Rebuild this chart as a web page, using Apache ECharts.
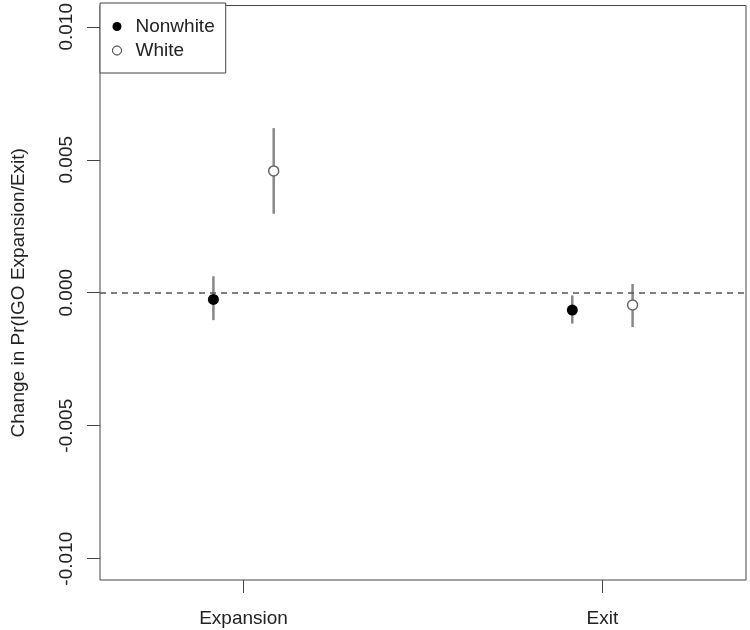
<!DOCTYPE html>
<html>
<head>
<meta charset="utf-8">
<script src="https://cdn.jsdelivr.net/npm/echarts@6/dist/echarts.min.js"></script>
<style>
  html, body { margin: 0; padding: 0; background: #fff; }
  #chart { width: 750px; height: 630px; }
</style>
</head>
<body>
<div id="chart"></div>
<script>
const categories = ['Expansion', 'Exit'];
const nonwhiteEst = [-0.00025, -0.00065];
const nonwhiteLo = [-0.00103, -0.00116];
const nonwhiteHi = [0.00062, -0.0001];
const whiteEst = [0.00458, -0.00046];
const whiteLo = [0.00297, -0.00129];
const whiteHi = [0.00619, 0.00033];
const yTicks = [-0.01, -0.005, 0, 0.005, 0.01];
const offset = 0.084;

const font = "'Liberation Sans', Arial, sans-serif";

const nonwhitePts = nonwhiteEst.map((v, i) => [i + 1 - offset, v]);
const whitePts = whiteEst.map((v, i) => [i + 1 + offset, v]);
const bars = [];
categories.forEach((c, i) => {
  bars.push([i + 1 - offset, nonwhiteLo[i], nonwhiteHi[i]]);
  bars.push([i + 1 + offset, whiteLo[i], whiteHi[i]]);
});

const chart = echarts.init(document.getElementById('chart'));
chart.setOption({
  animation: false,
  textStyle: { fontFamily: font },
  grid: {
    left: 100, right: 4, top: 3, bottom: 50,
    show: true, borderColor: '#444', borderWidth: 1
  },
  legend: {
    left: 100, top: 3,
    orient: 'vertical',
    backgroundColor: '#fff',
    borderColor: '#444', borderWidth: 1, borderRadius: 0,
    padding: [14, 11, 13, 12],
    itemGap: 5,
    itemWidth: 9, itemHeight: 9,
    textStyle: { fontSize: 19, color: '#222', padding: [0, 0, 0, 9] },
    data: [
      { name: 'Nonwhite', icon: 'circle' },
      { name: 'White', icon: 'circle', itemStyle: { borderColor: '#222', borderWidth: 1 } }
    ],
    z: 10
  },
  xAxis: {
    type: 'value',
    min: 0.6, max: 2.4,
    splitLine: { show: false },
    axisLine: { show: false, onZero: false },
    axisTick: { show: true, length: 13, customValues: [1, 2], lineStyle: { color: '#444' } },
    axisLabel: {
      customValues: [1, 2],
      margin: 29,
      fontSize: 19, color: '#222',
      formatter: v => categories[Math.round(v) - 1] || ''
    }
  },
  yAxis: {
    type: 'value',
    min: -0.0108, max: 0.0108,
    name: 'Change in Pr(IGO Expansion/Exit)',
    nameLocation: 'middle',
    nameGap: 72,
    nameTextStyle: { fontSize: 19, color: '#222' },
    splitLine: { show: false },
    axisLine: { show: false, onZero: false },
    axisTick: { show: true, length: 13, customValues: yTicks, lineStyle: { color: '#444' } },
    axisLabel: {
      customValues: yTicks,
      rotate: 90,
      margin: 24,
      fontSize: 19, color: '#222',
      formatter: v => v.toFixed(3)
    }
  },
  series: [
    {
      type: 'custom',
      name: 'ci',
      data: bars,
      z: 2,
      renderItem: (params, api) => {
        const p1 = api.coord([api.value(0), api.value(1)]);
        const p2 = api.coord([api.value(0), api.value(2)]);
        return {
          type: 'line',
          shape: { x1: p1[0], y1: p1[1], x2: p2[0], y2: p2[1] },
          style: { stroke: '#888', lineWidth: 2.5 }
        };
      },
      markLine: {
        silent: true,
        symbol: 'none',
        label: { show: false },
        lineStyle: { color: '#555', type: [6, 5], width: 1.5 },
        data: [{ yAxis: 0 }]
      }
    },
    {
      type: 'scatter',
      name: 'Nonwhite',
      data: nonwhitePts,
      symbol: 'circle',
      symbolSize: 11,
      itemStyle: { color: '#000', opacity: 1 },
      z: 5
    },
    {
      type: 'scatter',
      name: 'White',
      data: whitePts,
      symbol: 'circle',
      symbolSize: 10,
      itemStyle: { color: '#fff', borderColor: '#666', borderWidth: 1.5, opacity: 1 },
      z: 5
    }
  ]
});
</script>
</body>
</html>
